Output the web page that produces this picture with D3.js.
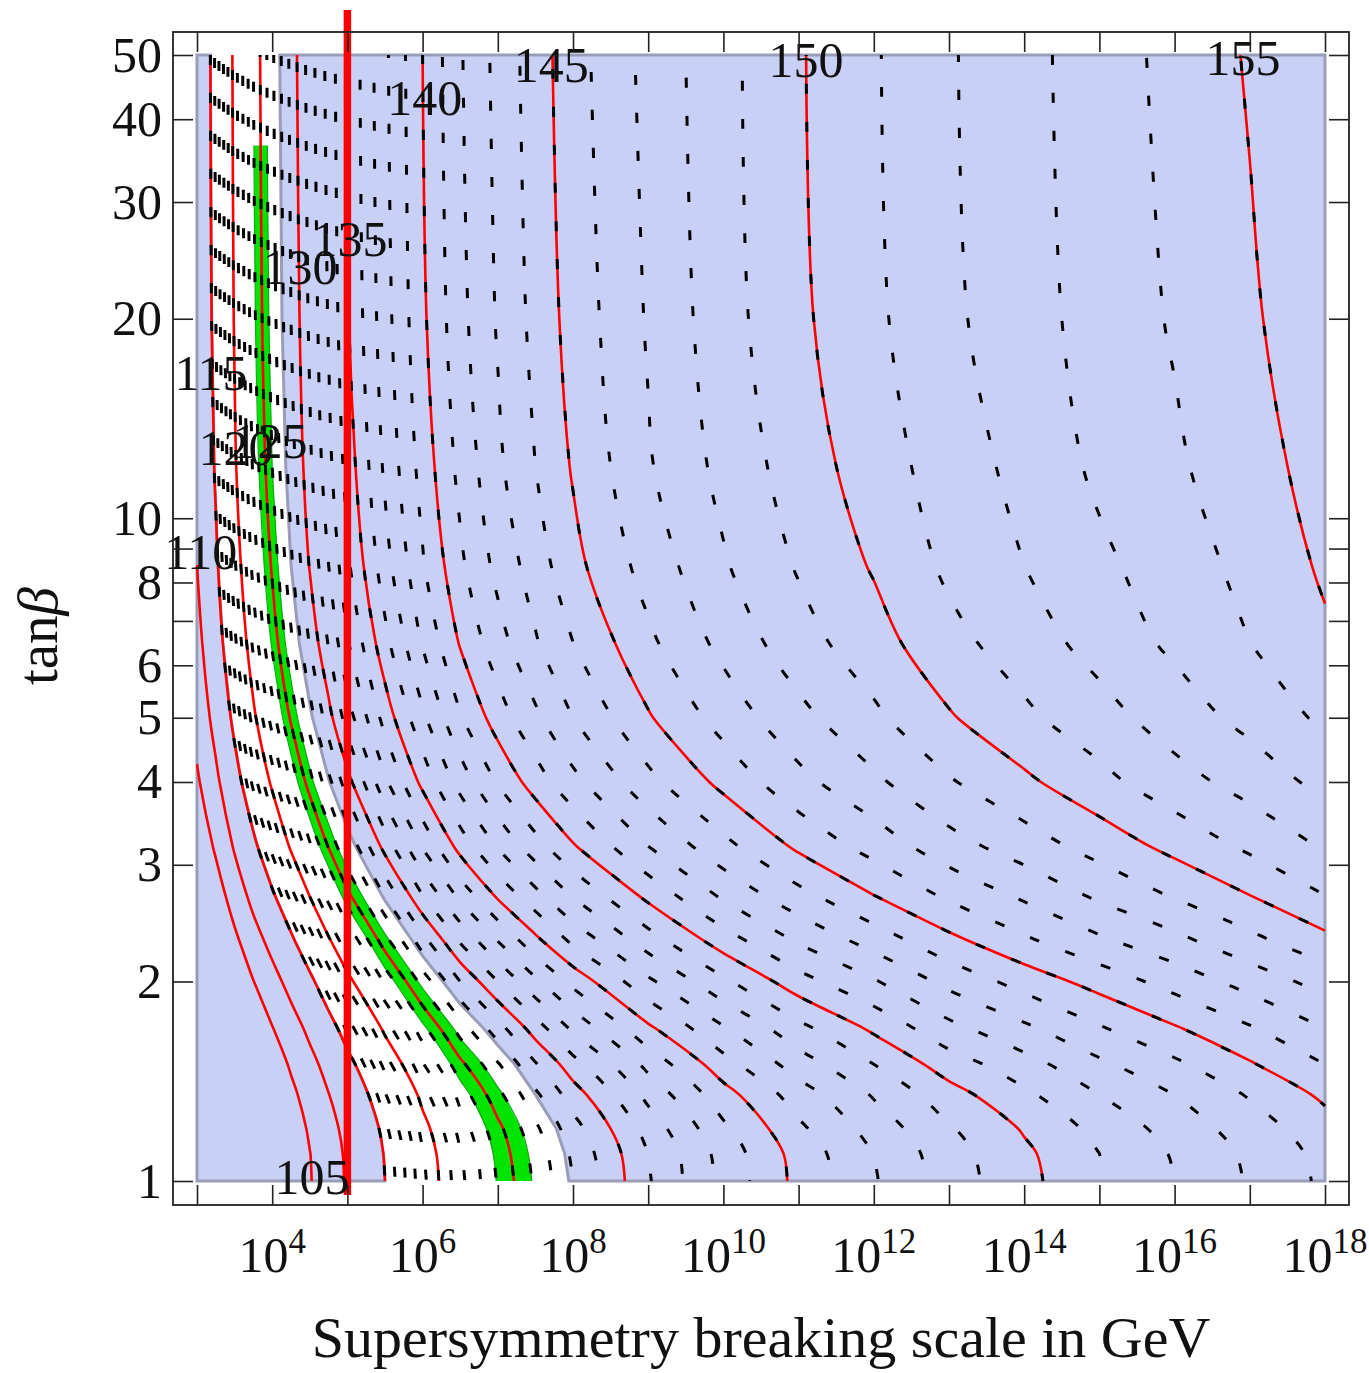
<!DOCTYPE html>
<html>
<head>
<meta charset="utf-8">
<script src="https://cdn.jsdelivr.net/npm/d3@7"></script>
<style>
  body { margin: 0; background: #fff; }
  svg { display: block; font-family: "Liberation Serif", "Times New Roman", serif; }
</style>
</head>
<body>
<svg id="chart" width="1369" height="1373"></svg>
<script>
// Higgs mass m_h (GeV) on a grid of SUSY-breaking scale (log10 GeV) x tan(beta)
const logMsNodes = [3, 3.25, 3.5, 3.75, 4, 4.25, 4.5, 4.75, 5, 5.5, 6, 6.5, 7, 7.5, 8, 9, 10, 11, 12, 13, 14, 15, 16, 17, 18];
const tanBetaNodes = [1, 1.1, 1.2, 1.35, 1.5, 1.7, 2, 2.3, 2.7, 3.2, 4, 5, 6.5, 8.5, 12, 20, 50];
const higgsMass = [
  [77.8, 83.8, 89.5, 94.2, 98.0, 101.5, 104.7, 107.7, 110.5, 115.0, 118.7, 121.7, 124.1, 126.2, 128.0, 130.9, 133.3, 135.3, 136.9, 138.5, 139.7, 140.9, 142.0, 143.1, 144.2],
  [78.1, 84.1, 89.8, 94.5, 98.3, 101.8, 104.9, 107.9, 110.7, 115.2, 118.9, 121.9, 124.3, 126.4, 128.2, 131.0, 133.4, 135.4, 137.0, 138.6, 139.8, 141.0, 142.1, 143.2, 144.3],
  [78.9, 84.9, 90.5, 95.2, 98.9, 102.4, 105.6, 108.5, 111.3, 115.7, 119.4, 122.4, 124.7, 126.8, 128.6, 131.4, 133.8, 135.8, 137.4, 138.9, 140.1, 141.3, 142.4, 143.5, 144.6],
  [80.7, 86.6, 92.1, 96.7, 100.4, 103.9, 107.0, 109.9, 112.6, 116.9, 120.5, 123.4, 125.7, 127.8, 129.5, 132.3, 134.6, 136.5, 138.1, 139.6, 140.8, 142.0, 143.0, 144.1, 145.2],
  [82.8, 88.6, 94.1, 98.6, 102.3, 105.6, 108.7, 111.5, 114.1, 118.4, 121.9, 124.7, 126.9, 128.9, 130.6, 133.3, 135.6, 137.5, 139.0, 140.5, 141.6, 142.8, 143.8, 144.9, 146.0],
  [85.8, 91.5, 96.8, 101.2, 104.8, 108.1, 111.0, 113.8, 116.3, 120.4, 123.7, 126.5, 128.6, 130.5, 132.2, 134.8, 136.9, 138.7, 140.2, 141.7, 142.8, 143.9, 144.9, 145.9, 147.0],
  [90.0, 95.5, 100.7, 104.9, 108.4, 111.5, 114.3, 117.0, 119.4, 123.2, 126.4, 129.0, 131.0, 132.8, 134.3, 136.8, 138.8, 140.6, 141.9, 143.3, 144.4, 145.4, 146.4, 147.4, 148.4],
  [93.6, 98.9, 103.9, 108.1, 111.4, 114.4, 117.2, 119.7, 121.9, 125.6, 128.6, 131.1, 133.0, 134.7, 136.2, 138.5, 140.5, 142.1, 143.4, 144.7, 145.8, 146.8, 147.7, 148.7, 149.7],
  [97.4, 102.5, 107.4, 111.4, 114.6, 117.5, 120.1, 122.5, 124.7, 128.1, 131.0, 133.3, 135.2, 136.7, 138.1, 140.3, 142.2, 143.7, 145.0, 146.2, 147.2, 148.2, 149.1, 150.0, 151.0],
  [100.8, 105.8, 110.5, 114.3, 117.5, 120.3, 122.8, 125.1, 127.1, 130.4, 133.1, 135.4, 137.1, 138.6, 139.9, 142.0, 143.7, 145.2, 146.4, 147.6, 148.5, 149.4, 150.3, 151.2, 152.1],
  [104.3, 109.1, 113.6, 117.4, 120.4, 123.1, 125.6, 127.7, 129.6, 132.8, 135.3, 137.4, 139.1, 140.5, 141.7, 143.7, 145.3, 146.7, 147.8, 148.9, 149.8, 150.7, 151.6, 152.4, 153.3],
  [106.8, 111.5, 115.9, 119.6, 122.5, 125.2, 127.5, 129.6, 131.5, 134.4, 136.8, 138.9, 140.5, 141.8, 143.0, 144.9, 146.4, 147.7, 148.8, 149.9, 150.8, 151.6, 152.5, 153.3, 154.2],
  [108.7, 113.4, 117.7, 121.3, 124.2, 126.8, 129.1, 131.1, 132.9, 135.7, 138.1, 140.1, 141.6, 142.9, 144.0, 145.8, 147.3, 148.6, 149.6, 150.7, 151.5, 152.4, 153.2, 154.0, 154.85],
  [110.0, 114.5, 118.8, 122.4, 125.2, 127.8, 130.1, 132.0, 133.8, 136.6, 138.9, 140.8, 142.3, 143.5, 144.7, 146.4, 147.9, 149.1, 150.1, 151.2, 152.0, 152.8, 153.5, 154.3, 155.15],
  [110.9, 115.4, 119.7, 123.2, 126.0, 128.5, 130.8, 132.7, 134.4, 137.2, 139.4, 141.3, 142.8, 144.0, 145.1, 146.9, 148.3, 149.5, 150.5, 151.5, 152.3, 153.2, 153.85, 154.6, 155.4],
  [111.5, 116.0, 120.2, 123.7, 126.5, 129.0, 131.2, 133.1, 134.9, 137.6, 139.8, 141.7, 143.1, 144.3, 145.4, 147.1, 148.6, 149.8, 150.8, 151.8, 152.6, 153.4, 154.1, 154.85, 155.7],
  [111.8, 116.3, 120.5, 124.0, 126.8, 129.3, 131.5, 133.4, 135.1, 137.8, 140.0, 141.9, 143.3, 144.5, 145.6, 147.3, 148.7, 149.9, 150.9, 151.9, 152.7, 153.5, 154.3, 155.1, 155.9]
];

// contour levels (GeV)
const solidLevels = [105, 110, 115, 120, 125, 130, 135, 140, 145, 150, 155];
const dashedLevels = [115, 116, 117, 118, 119, 120, 121, 122, 123, 124, 125, 126, 127, 128, 129, 130,
  131, 132, 133, 134, 135, 136, 137, 138, 139, 140, 141, 142, 143, 144, 145, 146, 147, 148, 149, 150,
  151, 152, 153, 154, 155];
const allowedRange = [115, 127.8];   // unshaded window in m_h
const measuredRange = [124, 126];    // green band in m_h
const measuredMaxTanBeta = 36.5;
const splitScale = 1e5;              // vertical marker, GeV

// contour labels: [m_h, log10 Ms, tan(beta)]
const contourLabels = [
  [105, 4.53, 1.014], [110, 3.05, 8.9], [115, 3.186, 16.6], [120, 3.52, 12.8],
  [125, 3.97, 13.1], [130, 4.37, 24.0], [135, 5.035, 26.4], [140, 6.03, 43.2],
  [145, 7.71, 48.3], [150, 11.1, 49.3], [155, 16.91, 49.5]
];

// axes
const xTickValues = [1e3, 1e4, 1e5, 1e6, 1e7, 1e8, 1e9, 1e10, 1e11, 1e12, 1e13, 1e14, 1e15, 1e16, 1e17, 1e18];
const xLabelExponents = [4, 6, 8, 10, 12, 14, 16, 18];
const yTickValues = [1, 2, 3, 4, 5, 6, 7, 8, 9, 10, 20, 30, 40, 50];
const yLabelValues = [1, 2, 3, 4, 5, 6, 8, 10, 20, 30, 40, 50];

// ---- layout ----
const plot = { left: 197, right: 1325, top: 55, bottom: 1181 };
const frame = { left: 173, right: 1349, top: 32, bottom: 1205 };
const COLORS = { shade: "#c9d0f5", edge: "#9a9db8", red: "#ff0000", green: "#00e400", greenEdge: "#17a617", ink: "#111" };

const svg = d3.select("#chart");
const x = d3.scaleLog().domain([1e3, 1e18]).range([plot.left, plot.right]);
const y = d3.scaleLog().domain([1, 50]).range([plot.bottom, plot.top]);

// grid index -> data coordinates (piecewise linear through the node lists)
const nx = logMsNodes.length, ny = tanBetaNodes.length;
const colToLogMs = d3.scaleLinear().domain(d3.range(nx)).range(logMsNodes);
const rowToLogTb = d3.scaleLinear().domain(d3.range(ny)).range(tanBetaNodes.map(Math.log10));
const values = higgsMass.flat();
const negValues = values.map(v => -v);
const gen = d3.contours().size([nx, ny]);

function toPx(p) {
  const i = Math.max(0, Math.min(nx - 1, p[0] - 0.5));
  const j = Math.max(0, Math.min(ny - 1, p[1] - 0.5));
  return [x(Math.pow(10, colToLogMs(i))), y(Math.pow(10, rowToLogTb(j)))];
}

function ringPath(ring) {
  return "M" + ring.map(p => toPx(p).map(v => v.toFixed(2)).join(",")).join("L") + "Z";
}
function areaPath(vals, level) {
  return gen.contour(vals, level).coordinates.map(poly => poly.map(ringPath).join("")).join("");
}

// open iso-lines: contour rings with the grid-border segments removed, running top-down
function isoLines(level) {
  const geo = gen.contour(values, level);
  const onEdge = p => p[0] <= 0 || p[0] >= nx || p[1] <= 0 || p[1] >= ny;
  const lines = [];
  geo.coordinates.forEach(poly => poly.forEach(ring => {
    const pts = ring.slice(0, -1);
    const n = pts.length;
    const s = pts.findIndex(onEdge);
    if (s < 0) { lines.push(pts.concat([pts[0]]).map(toPx)); return; }
    let run = [];
    for (let k = 1; k <= n; k++) {
      const p = pts[(s + k) % n];
      if (onEdge(p)) { if (run.length > 1) lines.push(run.map(toPx)); run = []; }
      else run.push(p);
    }
  }));
  return lines.map(l => (l[0][1] > l[l.length - 1][1] ? l.reverse() : l));
}

const curve = d3.line().curve(d3.curveCatmullRom.alpha(0.5));

const defs = svg.append("defs");
defs.append("clipPath").attr("id", "plotClip").append("rect")
  .attr("x", plot.left - 1).attr("y", plot.top - 1)
  .attr("width", plot.right - plot.left + 2).attr("height", plot.bottom - plot.top + 2);
defs.append("clipPath").attr("id", "bandClip").append("rect")
  .attr("x", plot.left).attr("y", y(measuredMaxTanBeta))
  .attr("width", plot.right - plot.left).attr("height", plot.bottom - y(measuredMaxTanBeta));

// shaded (excluded) regions
const regions = svg.append("g");
regions.append("path").attr("d", areaPath(negValues, -allowedRange[0]))
  .attr("fill", COLORS.shade).attr("stroke", COLORS.edge).attr("stroke-width", 3);
regions.append("path").attr("d", areaPath(values, allowedRange[1]))
  .attr("fill", COLORS.shade).attr("stroke", COLORS.edge).attr("stroke-width", 3);

// measured band
const band = svg.append("g").attr("clip-path", "url(#bandClip)");
band.append("path")
  .attr("d", areaPath(values, measuredRange[0]) + areaPath(values, measuredRange[1]))
  .attr("fill-rule", "evenodd").attr("fill", COLORS.green);
measuredRange.forEach(level => {
  band.selectAll(null).data(isoLines(level)).join("path")
    .attr("d", curve).attr("fill", "none")
    .attr("stroke", COLORS.greenEdge).attr("stroke-width", 1.2);
});

const lines = svg.append("g").attr("clip-path", "url(#plotClip)");

// red solid contours every 5 GeV
solidLevels.forEach(level => {
  lines.selectAll(null).data(isoLines(level)).join("path")
    .attr("d", curve).attr("fill", "none")
    .attr("stroke", COLORS.red).attr("stroke-width", 2.6);
});

// black dashed contours every 1 GeV
dashedLevels.forEach(level => {
  lines.selectAll(null).data(isoLines(level)).join("path")
    .attr("d", curve).attr("fill", "none")
    .attr("stroke", "#000").attr("stroke-width", 3)
    .attr("stroke-dasharray", "10 28")
    .attr("stroke-dashoffset", -(((level - 115) * 3) % 38));
});

// vertical marker
svg.append("line")
  .attr("x1", x(splitScale)).attr("x2", x(splitScale))
  .attr("y1", 10).attr("y2", 1195)
  .attr("stroke", COLORS.red).attr("stroke-width", 7.5);

// contour labels
svg.append("g").selectAll("text").data(contourLabels).join("text")
  .attr("x", d => x(Math.pow(10, d[1])))
  .attr("y", d => y(d[2]))
  .attr("dy", "0.35em")
  .attr("text-anchor", "middle")
  .attr("font-size", 50)
  .attr("fill", COLORS.ink)
  .text(d => d[0]);

// frame and ticks
svg.append("rect")
  .attr("x", frame.left).attr("y", frame.top)
  .attr("width", frame.right - frame.left).attr("height", frame.bottom - frame.top)
  .attr("fill", "none").attr("stroke", "#222").attr("stroke-width", 1.8);

function styleAxis(g) {
  g.select(".domain").remove();
  g.selectAll(".tick line").attr("stroke", "#222").attr("stroke-width", 1.6);
  g.selectAll(".tick text").attr("font-family", "Liberation Serif, Times New Roman, serif")
    .attr("font-size", 50).attr("fill", COLORS.ink);
}

svg.append("g").attr("transform", `translate(0,${frame.bottom})`)
  .call(d3.axisBottom(x).tickValues(xTickValues).tickSize(-20).tickFormat("")).call(styleAxis);
svg.append("g").attr("transform", `translate(0,${frame.top})`)
  .call(d3.axisTop(x).tickValues(xTickValues).tickSize(-20).tickFormat("")).call(styleAxis);
svg.append("g").attr("transform", `translate(${frame.left},0)`)
  .call(d3.axisLeft(y).tickValues(yTickValues).tickSize(-20).tickPadding(11)
    .tickFormat(d => (yLabelValues.includes(d) ? String(d) : ""))).call(styleAxis);
svg.append("g").attr("transform", `translate(${frame.right},0)`)
  .call(d3.axisRight(y).tickValues(yTickValues).tickSize(-20).tickFormat("")).call(styleAxis);

// x tick labels as powers of ten
const xl = svg.append("g").selectAll("text").data(xLabelExponents).join("text")
  .attr("x", e => x(Math.pow(10, e)))
  .attr("y", 1272)
  .attr("text-anchor", "middle")
  .attr("font-size", 50)
  .attr("fill", COLORS.ink);
xl.append("tspan").text("10");
xl.append("tspan").attr("font-size", 35).attr("dy", -19).text(e => e);

// axis titles
svg.append("text")
  .attr("x", (plot.left + plot.right) / 2).attr("y", 1357)
  .attr("text-anchor", "middle").attr("font-size", 58).attr("fill", COLORS.ink)
  .text("Supersymmetry breaking scale in GeV");
const yt = svg.append("text")
  .attr("transform", "translate(57,636) rotate(-90)")
  .attr("text-anchor", "middle").attr("font-size", 57).attr("fill", COLORS.ink);
yt.append("tspan").text("tan");
yt.append("tspan").attr("font-style", "italic").text("β");
</script>
</body>
</html>
